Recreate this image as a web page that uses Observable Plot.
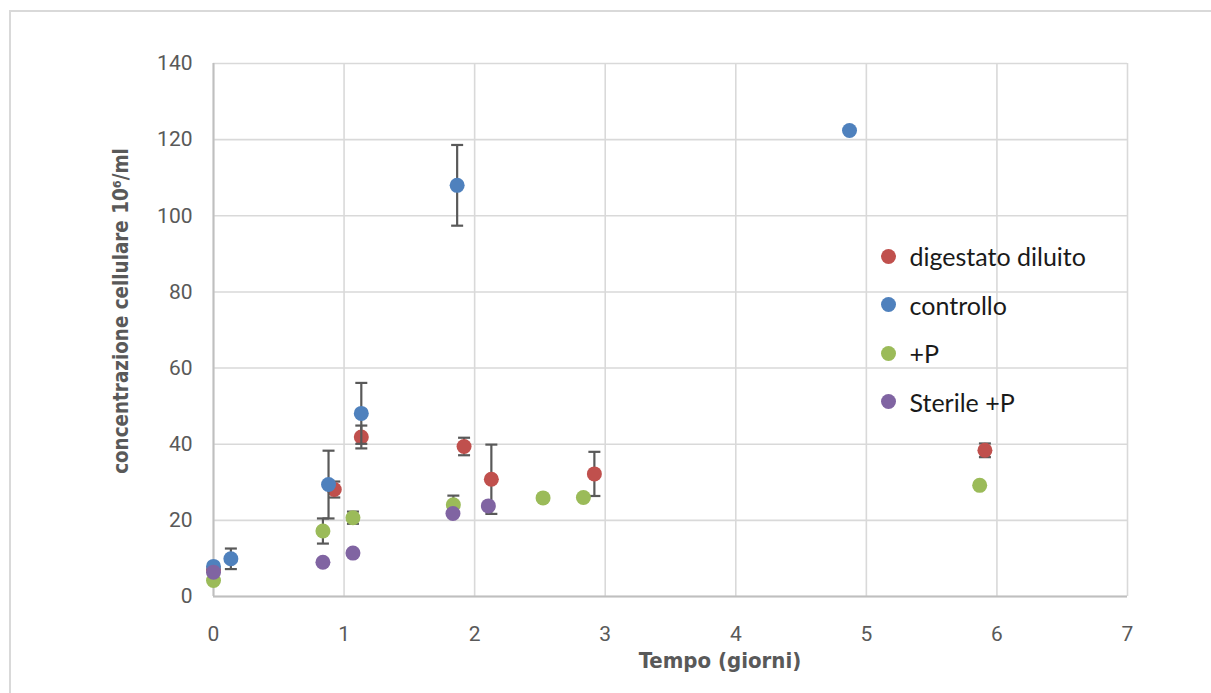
<!DOCTYPE html>
<html>
<head>
<meta charset="utf-8">
<script src="https://cdn.jsdelivr.net/npm/d3@7"></script>
<script src="https://cdn.jsdelivr.net/npm/@observablehq/plot@0.6"></script>
<style>
  html, body { margin: 0; padding: 0; background: #fff; overflow: hidden; }
  #chart { position: relative; width: 1211px; height: 693px; }
  #frame { position: absolute; left: 9px; top: 10px; width: 1300px; height: 800px;
           border-left: 2px solid #d9d9d9; border-top: 2px solid #d9d9d9; }
  #chart svg { position: absolute; left: 0; top: 0; }
  .legend { position: absolute; left: 880.5px; top: 232px; font-family: Lato, "Open Sans", sans-serif;
            font-size: 25px; color: #1a1a1a; }
  .legend div { height: 48.5px; display: flex; align-items: center; white-space: nowrap; }
  .legend span.sw { display: inline-block; width: 15px; height: 15px; border-radius: 50%; margin-right: 14px; }
</style>
</head>
<body>
<div id="chart"><div id="frame"></div></div>
<script>
// Tick values
const xTicks = [0, 1, 2, 3, 4, 5, 6, 7];
const yTicks = [0, 20, 40, 60, 80, 100, 120, 140];

// Series names and colours
const seriesNames = ["digestato diluito", "controllo", "+P", "Sterile +P"];
const seriesColors = ["#C0504D", "#4F81BD", "#9BBB59", "#8064A2"];

// digestato diluito
const digDays = [0, 0.925, 1.132, 1.919, 2.128, 2.917, 5.908];
const digConc = [7.0, 28.1, 41.9, 39.4, 30.8, 32.2, 38.4];
const digErr  = [0.8, 2.1, 3.0, 2.3, 9.1, 5.8, 1.8];

// controllo
const ctrDays = [0, 0.133, 0.881, 1.132, 1.866, 4.871];
const ctrConc = [7.9, 9.9, 29.4, 48.1, 108.0, 122.4];
const ctrErr  = [0.5, 2.7, 8.9, 8.0, 10.6, 0];

// +P
const pDays = [0, 0.838, 1.068, 1.837, 2.524, 2.833, 5.868];
const pConc = [4.2, 17.2, 20.7, 24.1, 25.9, 26.0, 29.2];
const pErr  = [0, 3.3, 1.6, 2.4, 0, 0, 0];

// Sterile +P
const sterDays = [0, 0.838, 1.068, 1.834, 2.105];
const sterConc = [6.4, 9.0, 11.4, 21.8, 23.8];
const sterErr  = [0, 0, 0, 0, 0];

const toRows = (days, conc, err) => days.map((d, i) => ({day: d, conc: conc[i], err: err[i]}));
const series = [
  toRows(digDays, digConc, digErr),
  toRows(ctrDays, ctrConc, ctrErr),
  toRows(pDays, pConc, pErr),
  toRows(sterDays, sterConc, sterErr)
];

// Horizontal cap for error bars
const capSymbol = {
  draw(context, size) {
    const w = Math.sqrt(size / Math.PI);
    context.moveTo(-w, 0);
    context.lineTo(w, 0);
  }
};

const seriesMarks = series.flatMap((rows, i) => {
  const withErr = rows.filter(d => d.err > 0);
  return [
    Plot.ruleX(withErr, {x: "day", y1: d => d.conc - d.err, y2: d => d.conc + d.err,
                         stroke: "#595959", strokeWidth: 2.2}),
    Plot.dot(withErr, {x: "day", y: d => d.conc - d.err, symbol: capSymbol, r: 6,
                       stroke: "#595959", strokeWidth: 2.2, fill: "none"}),
    Plot.dot(withErr, {x: "day", y: d => d.conc + d.err, symbol: capSymbol, r: 6,
                       stroke: "#595959", strokeWidth: 2.2, fill: "none"}),
    Plot.dot(rows, {x: "day", y: "conc", r: 7.5, fill: seriesColors[i], stroke: "none"})
  ];
});

const chart = Plot.plot({
  width: 1211,
  height: 693,
  marginLeft: 213,
  marginRight: 84,
  marginTop: 63,
  marginBottom: 97,
  x: {domain: [0, 7]},
  y: {domain: [0, 140]},
  style: {fontFamily: "Roboto, sans-serif", fontSize: "21px", color: "#595959", background: "transparent"},
  marks: [
    Plot.gridX(xTicks, {stroke: "#d9d9d9", strokeOpacity: 1, strokeWidth: 1.6}),
    Plot.gridY(yTicks, {stroke: "#d9d9d9", strokeOpacity: 1, strokeWidth: 1.6}),
    Plot.ruleX([0], {stroke: "#bfbfbf", strokeWidth: 2}),
    Plot.ruleY([0], {stroke: "#bfbfbf", strokeWidth: 2}),
    Plot.axisX(xTicks, {tickSize: 0, tickPadding: 30, tickFormat: d3.format("d"), label: null}),
    Plot.axisY(yTicks, {tickSize: 0, tickPadding: 21, tickFormat: d3.format("d"), label: null}),
    ...seriesMarks
  ]
});

const svg = d3.select(chart);
svg.append("text")
  .attr("transform", "translate(128,311) rotate(-90)")
  .attr("text-anchor", "middle")
  .attr("font-family", "'DejaVu Sans Condensed', sans-serif")
  .attr("font-weight", "bold")
  .attr("font-size", 20.4)
  .attr("fill", "#595959")
  .text("concentrazione cellulare 10⁶/ml");
svg.append("text")
  .attr("x", 720)
  .attr("y", 668)
  .attr("text-anchor", "middle")
  .attr("font-family", "'DejaVu Sans Condensed', sans-serif")
  .attr("font-weight", "bold")
  .attr("font-size", 22)
  .attr("fill", "#595959")
  .text("Tempo (giorni)");

document.getElementById("chart").appendChild(chart);

// Legend
const legend = d3.select("#chart").append("div").attr("class", "legend");
seriesNames.forEach((name, i) => {
  const row = legend.append("div");
  row.append("span").attr("class", "sw").style("background", seriesColors[i]);
  row.append("span").text(name);
});
</script>
</body>
</html>
